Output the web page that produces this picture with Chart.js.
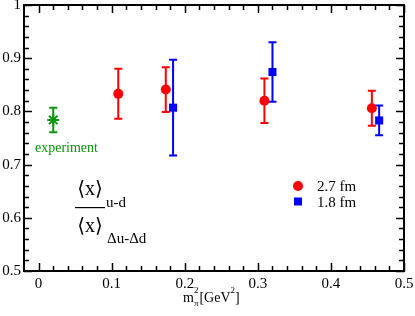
<!DOCTYPE html>
<html>
<head>
<meta charset="utf-8">
<script src="https://cdn.jsdelivr.net/npm/chart.js@4.4.1/dist/chart.umd.min.js"></script>
<style>
  html, body { margin: 0; padding: 0; background: #fff; }
  #wrap { width: 415px; height: 316px; }
</style>
</head>
<body>
<div id="wrap"><canvas id="chart" width="415" height="316"></canvas></div>
<script>
// data
const expX = [0.02];
const expY = [0.784];
const expErr = [0.023];

const fm27X = [0.109, 0.174, 0.309, 0.456];
const fm27Y = [0.833, 0.841, 0.820, 0.806];
const fm27Err = [0.047, 0.042, 0.042, 0.033];

const fm18X = [0.184, 0.320, 0.466];
const fm18Y = [0.807, 0.874, 0.783];
const fm18Err = [0.090, 0.056, 0.028];

const xTicks = [0, 0.1, 0.2, 0.3, 0.4, 0.5];
const xTickLabels = ["0", "0.1", "0.2", "0.3", "0.4", "0.5"];
const yTicks = [0.5, 0.6, 0.7, 0.8, 0.9, 1];
const yTickLabels = ["0.5", "0.6", "0.7", "0.8", "0.9", "1"];

const serif = "'Liberation Serif', 'DejaVu Serif', serif";
const green = "#0a960a";

function toPoints(xs, ys) {
  return xs.map((x, i) => ({ x: x, y: ys[i] }));
}

// error bars, drawn under the markers
const errorBars = {
  id: "errorBars",
  beforeDatasetsDraw(chart) {
    const ctx = chart.ctx;
    const xs = chart.scales.x, ys = chart.scales.y;
    chart.data.datasets.forEach(ds => {
      ctx.save();
      ctx.strokeStyle = ds.borderColor;
      ctx.lineWidth = 2;
      ds.data.forEach((p, i) => {
        const e = ds.errors[i];
        const px = xs.getPixelForValue(p.x);
        const top = ys.getPixelForValue(p.y + e);
        const bot = ys.getPixelForValue(p.y - e);
        ctx.beginPath();
        ctx.moveTo(px, top); ctx.lineTo(px, bot);
        ctx.moveTo(px - 4, top); ctx.lineTo(px + 4, top);
        ctx.moveTo(px - 4, bot); ctx.lineTo(px + 4, bot);
        ctx.stroke();
      });
      ctx.restore();
    });
  }
};

// frame, inward ticks on all four sides, and the annotations
const frame = {
  id: "frame",
  afterDraw(chart) {
    const ctx = chart.ctx;
    const a = chart.chartArea;
    const xs = chart.scales.x, ys = chart.scales.y;
    ctx.save();
    ctx.strokeStyle = "#000";
    ctx.lineWidth = 2;
    ctx.strokeRect(a.left, a.top, a.right - a.left, a.bottom - a.top);

    ctx.lineWidth = 1.5;
    ctx.beginPath();
    for (let i = 0; i <= 25; i++) {
      const v = i * 0.02;
      const len = i % 5 === 0 ? 8 : 5;
      const px = Math.round(xs.getPixelForValue(v)) + 0.5;
      ctx.moveTo(px, a.bottom); ctx.lineTo(px, a.bottom - len);
      ctx.moveTo(px, a.top); ctx.lineTo(px, a.top + len);
    }
    for (let i = 0; i <= 25; i++) {
      const v = 0.5 + i * 0.02;
      const len = i % 5 === 0 ? 8 : 5;
      const py = Math.round(ys.getPixelForValue(v)) + 0.5;
      ctx.moveTo(a.left, py); ctx.lineTo(a.left + len, py);
      ctx.moveTo(a.right, py); ctx.lineTo(a.right - len, py);
    }
    ctx.stroke();

    // experiment label
    ctx.fillStyle = green;
    ctx.font = "14px " + serif;
    ctx.textBaseline = "alphabetic";
    ctx.textAlign = "left";
    ctx.fillText("experiment", 35, 152);

    // legend
    ctx.fillStyle = "#ff0000";
    ctx.beginPath();
    ctx.arc(298, 186, 5, 0, Math.PI * 2);
    ctx.fill();
    ctx.fillStyle = "#0000ff";
    ctx.fillRect(294, 197.5, 8, 8);
    ctx.fillStyle = "#000";
    ctx.font = "15px " + serif;
    ctx.fillText("2.7 fm", 317, 191);
    ctx.fillText("1.8 fm", 317, 207);

    // ratio label
    ctx.font = "20px " + serif;
    ctx.textAlign = "center";
    ctx.fillText("\u27e8x\u27e9", 90, 195);
    ctx.fillText("\u27e8x\u27e9", 90, 232);
    ctx.fillRect(75, 207, 30, 1.2);
    ctx.textAlign = "left";
    ctx.font = "15px " + serif;
    ctx.fillText("u-d", 106, 207);
    ctx.fillText("\u0394u-\u0394d", 107, 243);

    // x axis title
    ctx.font = "14px " + serif;
    let x = 183;
    ctx.fillText("m", x, 302);
    x += ctx.measureText("m").width;
    ctx.font = "9px " + serif;
    ctx.fillText("2", x, 293);
    ctx.fillText("\u03c0", x, 306);
    x += ctx.measureText("2").width + 1;
    ctx.font = "14px " + serif;
    ctx.fillText("[GeV", x, 302);
    x += ctx.measureText("[GeV").width;
    ctx.font = "9px " + serif;
    ctx.fillText("2", x, 293);
    x += ctx.measureText("2").width;
    ctx.font = "14px " + serif;
    ctx.fillText("]", x, 302);
    ctx.restore();
  }
};

new Chart(document.getElementById("chart"), {
  type: "scatter",
  data: {
    datasets: [
      {
        label: "experiment",
        data: toPoints(expX, expY),
        errors: expErr,
        borderColor: green,
        backgroundColor: green,
        pointStyle: "star",
        pointRadius: 6,
        borderWidth: 2
      },
      {
        label: "2.7 fm",
        data: toPoints(fm27X, fm27Y),
        errors: fm27Err,
        borderColor: "#ff0000",
        backgroundColor: "#ff0000",
        pointStyle: "circle",
        pointRadius: 5,
        borderWidth: 0
      },
      {
        label: "1.8 fm",
        data: toPoints(fm18X, fm18Y),
        errors: fm18Err,
        borderColor: "#0000ff",
        backgroundColor: "#0000ff",
        pointStyle: "rect",
        pointRadius: 5.7,
        borderWidth: 0
      }
    ]
  },
  options: {
    responsive: false,
    animation: false,
    devicePixelRatio: 1,
    layout: { autoPadding: false, padding: { top: 5, right: 11, left: 0, bottom: 0 } },
    plugins: { legend: { display: false }, tooltip: { enabled: false } },
    scales: {
      x: {
        type: "linear",
        min: -0.02,
        max: 0.5,
        grid: { display: false, drawTicks: false },
        border: { display: false },
        afterBuildTicks: s => { s.ticks = xTicks.map(v => ({ value: v })); },
        afterFit: s => { s.height = 45; s.paddingLeft = 0; s.paddingRight = 0; },
        ticks: {
          padding: 4,
          color: "#000",
          maxRotation: 0,
          font: { family: serif, size: 15 },
          callback: (v) => xTickLabels[xTicks.findIndex(t => Math.abs(t - v) < 1e-9)]
        }
      },
      y: {
        type: "linear",
        min: 0.5,
        max: 1,
        grid: { display: false, drawTicks: false },
        border: { display: false },
        afterBuildTicks: s => { s.ticks = yTicks.map(v => ({ value: v })); },
        afterFit: s => { s.width = 24; s.paddingTop = 0; s.paddingBottom = 0; },
        ticks: {
          padding: 3,
          color: "#000",
          font: { family: serif, size: 15 },
          callback: (v) => yTickLabels[yTicks.findIndex(t => Math.abs(t - v) < 1e-9)]
        }
      }
    }
  },
  plugins: [errorBars, frame]
});
</script>
</body>
</html>
